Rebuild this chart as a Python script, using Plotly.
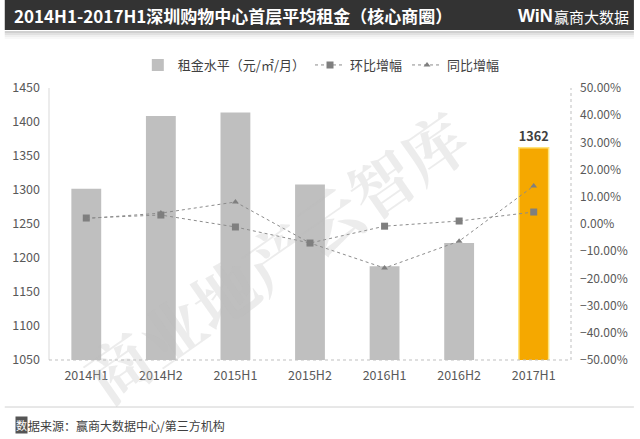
import plotly.graph_objects as go

periods = ["2014H1", "2014H2", "2015H1", "2015H2", "2016H1", "2016H2", "2017H1"]
rent = [1302, 1409, 1414, 1308, 1188, 1222, 1362]
qoq = [0.022, 0.033, -0.011, -0.070, -0.008, 0.011, 0.044]
yoy = [0.020, 0.040, 0.081, -0.070, -0.162, -0.063, 0.140]

title_text = "2014H1-2017H1深圳购物中心首层平均租金（核心商圈）"
source_text = "据来源：赢商大数据中心/第三方机构"

W, H = 640, 439
ML, MR, MT, MB = 45, 64, 88, 79
pw, ph = W - ML - MR, H - MT - MB


def px(x):
    return (x - ML) / pw


def py(y):
    return (H - MB - y) / ph


FONT = "Noto Sans CJK SC"
GRAY = "#bfbfbf"
ORANGE = "#f5a800"

bar_colors = [GRAY] * (len(periods) - 1) + [ORANGE]
bar_text = [""] * (len(periods) - 1) + [str(rent[-1])]

fig = go.Figure()
fig.add_trace(go.Bar(
    x=periods, y=rent, name="租金水平（元/㎡/月）",
    marker=dict(color=bar_colors, line=dict(color=["rgba(0,0,0,0)"] * 6 + ["#ffe37a"], width=1.5)),
    width=0.4, text=bar_text, textposition="outside", cliponaxis=False,
    textfont=dict(size=13, color="#404040", family=FONT, weight="bold"),
))
fig.add_trace(go.Scatter(
    x=periods, y=qoq, name="环比增幅", yaxis="y2", mode="lines+markers",
    line=dict(color="#8c8c8c", width=1, dash="dot"),
    marker=dict(symbol="square", size=7, color="#7f7f7f"),
))
fig.add_trace(go.Scatter(
    x=periods, y=yoy, name="同比增幅", yaxis="y2", mode="lines+markers",
    line=dict(color="#8c8c8c", width=1, dash="dot"),
    marker=dict(symbol="triangle-up", size=6, color="#7f7f7f"),
))

shapes = [
    # title bar
    dict(type="rect", xref="paper", yref="paper", x0=px(0), x1=px(W), y0=py(30), y1=py(0),
         fillcolor="#333333", line=dict(width=0), layer="below"),
    # axis lines
    dict(type="line", xref="paper", yref="paper", x0=0, x1=0, y0=0, y1=1,
         line=dict(color="#d9d9d9", width=1)),
    dict(type="line", xref="paper", yref="paper", x0=1, x1=1, y0=0, y1=1,
         line=dict(color="#bfbfbf", width=1, dash="dot")),
    dict(type="line", xref="paper", yref="paper", x0=0, x1=1, y0=0, y1=0,
         line=dict(color="#bfbfbf", width=1, dash="dot")),
    # separator above source
    dict(type="line", xref="paper", yref="paper", x0=px(0), x1=px(W), y0=py(407), y1=py(407),
         line=dict(color="#d0d0d0", width=1)),
]
for i, a in enumerate([0.35, 0.22, 0.12, 0.05]):
    shapes.append(dict(type="rect", xref="paper", yref="paper", x0=px(0), x1=px(W),
                       y0=py(33 + 2 * i), y1=py(31 + 2 * i),
                       fillcolor=f"rgba(120,120,120,{a})", line=dict(width=0), layer="below"))

annotations = [
    dict(text=title_text, xref="paper", yref="paper", x=px(7), y=py(15), xanchor="left",
         yanchor="middle", showarrow=False,
         font=dict(size=17, color="white", family=FONT, weight="bold")),
    dict(text="<b>WiN</b>", xref="paper", yref="paper", x=px(520), y=py(16), xanchor="left",
         yanchor="middle", showarrow=False,
         font=dict(size=18, color="white", family="Liberation Sans")),
    dict(text="赢商大数据", xref="paper", yref="paper", x=px(637), y=py(16), xanchor="right",
         yanchor="middle", showarrow=False,
         font=dict(size=15, color="white", family=FONT)),
    dict(text="数", xref="paper", yref="paper", x=px(10), y=py(425), xanchor="left",
         yanchor="middle", showarrow=False, bgcolor="#555555", borderpad=0,
         font=dict(size=11, color="white", family=FONT)),
    dict(text=source_text, xref="paper", yref="paper", x=px(22), y=py(425), xanchor="left",
         yanchor="middle", showarrow=False,
         font=dict(size=12, color="#404040", family=FONT)),
    dict(text="商业地产云智库", xref="paper", yref="paper", x=px(275), y=py(255),
         xanchor="center", yanchor="middle", showarrow=False, textangle=-35,
         font=dict(size=64, color="rgba(185,185,185,0.28)", family="Noto Serif CJK SC, " + FONT,
                   weight="bold")),
]

fig.update_layout(
    width=W, height=H,
    margin=dict(l=ML, r=MR, t=MT, b=MB),
    paper_bgcolor="white", plot_bgcolor="white",
    font=dict(family=FONT, color="#595959", size=12),
    bargap=0.6,
    showlegend=True,
    legend=dict(orientation="h", x=px(322), y=py(65), xanchor="center", yanchor="middle",
                font=dict(size=13, color="#404040"), itemwidth=30, traceorder="normal"),
    xaxis=dict(showgrid=False, showline=False, zeroline=False, ticks="",
               ticklabelstandoff=6, tickfont=dict(size=12.5, color="#595959")),
    yaxis=dict(range=[1050, 1450], dtick=50, showgrid=False, zeroline=False, showline=False,
               ticklabelstandoff=8, tickfont=dict(size=12.5, color="#595959")),
    yaxis2=dict(range=[-0.5, 0.5], dtick=0.1, tickformat=".2%", overlaying="y", side="right",
                showgrid=False, zeroline=False, showline=False, ticklabelstandoff=8,
                tickfont=dict(size=12, color="#595959")),
    shapes=shapes,
    annotations=annotations,
)

fig.write_html("out.html", config={"displayModeBar": False},
               post_script="document.body.style.margin='0';")
